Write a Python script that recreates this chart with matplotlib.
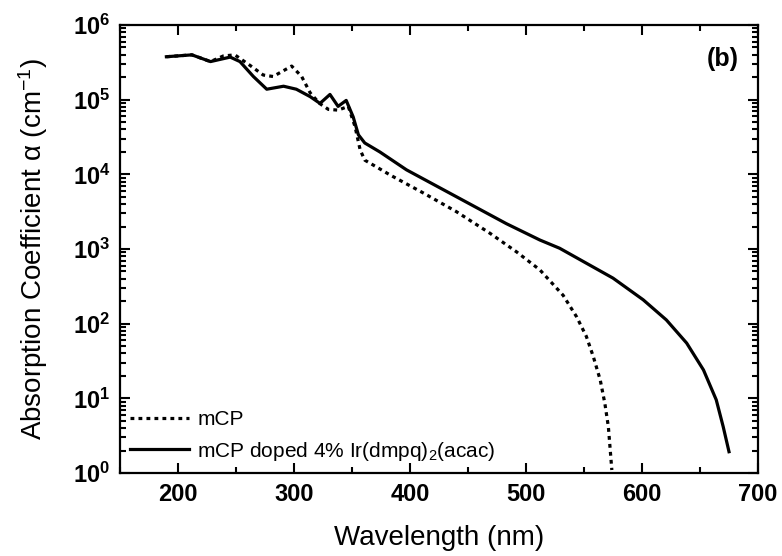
import numpy as np
import matplotlib
matplotlib.use('Agg')
import matplotlib.pyplot as plt
from matplotlib.ticker import LogLocator, FixedLocator, FuncFormatter, NullFormatter

plt.rcParams['font.family'] = ['Liberation Sans', 'DejaVu Sans']
plt.rcParams['mathtext.fontset'] = 'custom'
plt.rcParams['mathtext.rm'] = 'Liberation Sans'
plt.rcParams['mathtext.bf'] = 'Liberation Sans:bold'
plt.rcParams['mathtext.it'] = 'Liberation Sans:italic'

# ---- data (log10 of absorption coefficient) ----
wl_mcp = [190, 212, 228, 239, 249, 262, 273.5, 282, 298, 306.6, 314, 322,
          329.6, 338, 346.8, 352.6, 357, 361, 371, 383, 411.5, 440, 469, 492,
          512, 532, 543.7, 552, 558, 564, 568, 571, 574]
log_mcp = [5.575, 5.60, 5.51, 5.585, 5.60, 5.46, 5.33, 5.31, 5.45, 5.31, 5.09,
           4.95, 4.87, 4.86, 4.91, 4.64, 4.33, 4.19, 4.10, 3.99, 3.75, 3.50,
           3.21, 2.96, 2.72, 2.38, 2.09, 1.83, 1.56, 1.245, 0.93, 0.62, 0.04]

wl_dop = [190, 212, 228, 245, 253.4, 265, 276.5, 291, 302, 314, 322.4, 331,
          338, 345, 351, 355.5, 361, 374, 397, 440, 483, 512, 529, 552, 575,
          601, 621, 638.5, 653, 664, 670, 675]
log_dop = [5.575, 5.60, 5.51, 5.57, 5.51, 5.31, 5.14, 5.18, 5.14, 5.04, 4.95,
           5.07, 4.91, 4.99, 4.77, 4.53, 4.42, 4.30, 4.06, 3.70, 3.34, 3.12,
           3.01, 2.81, 2.61, 2.32, 2.05, 1.74, 1.38, 0.98, 0.62, 0.285]

lbl_mcp = 'mCP'
lbl_dop = r'mCP doped 4% Ir(dmpq)$_2$(acac)'

fig = plt.figure(figsize=(7.82, 5.56), dpi=100)
ax = fig.add_axes([120/782, 83/556, 638/782, 448/556])

ax.plot(wl_mcp, 10**np.array(log_mcp), color='black', lw=2.3,
        linestyle=(0, (1.2, 1.3)), label=lbl_mcp)
ax.plot(wl_dop, 10**np.array(log_dop), color='black', lw=2.3,
        linestyle='-', label=lbl_dop)

ax.set_yscale('log')
ax.set_xlim(150, 700)
ax.set_ylim(1, 1e6)

ax.xaxis.set_major_locator(FixedLocator([200, 300, 400, 500, 600, 700]))
ax.xaxis.set_minor_locator(FixedLocator([150, 250, 350, 450, 550, 650]))
ax.yaxis.set_major_locator(LogLocator(base=10, numticks=10))
ax.yaxis.set_minor_locator(LogLocator(base=10, subs=np.arange(2, 10), numticks=20))
ax.yaxis.set_minor_formatter(NullFormatter())
ax.yaxis.set_major_formatter(FuncFormatter(
    lambda v, p: r'$\mathbf{10^{%d}}$' % int(round(np.log10(v)))))

ax.tick_params(which='both', direction='in', top=True, right=True, width=1.5)
ax.tick_params(which='major', length=7, labelsize=17, pad=7)
ax.tick_params(which='minor', length=4)
for lab in ax.get_xticklabels():
    lab.set_fontweight('bold')
for s in ax.spines.values():
    s.set_linewidth(1.6)

ax.set_xlabel('Wavelength (nm)', fontsize=20, labelpad=14)
ax.set_ylabel('Absorption Coefficient α (cm$^{-1}$)', fontsize=20, labelpad=16)

ax.text(0.97, 0.925, '(b)', transform=ax.transAxes, fontsize=18,
        fontweight='bold', ha='right', va='center')

ax.legend(loc='lower left', frameon=False, fontsize=15, handlelength=2.8,
          borderaxespad=0.1, labelspacing=0.5, handletextpad=0.4)

fig.savefig('out.png', dpi=100)
